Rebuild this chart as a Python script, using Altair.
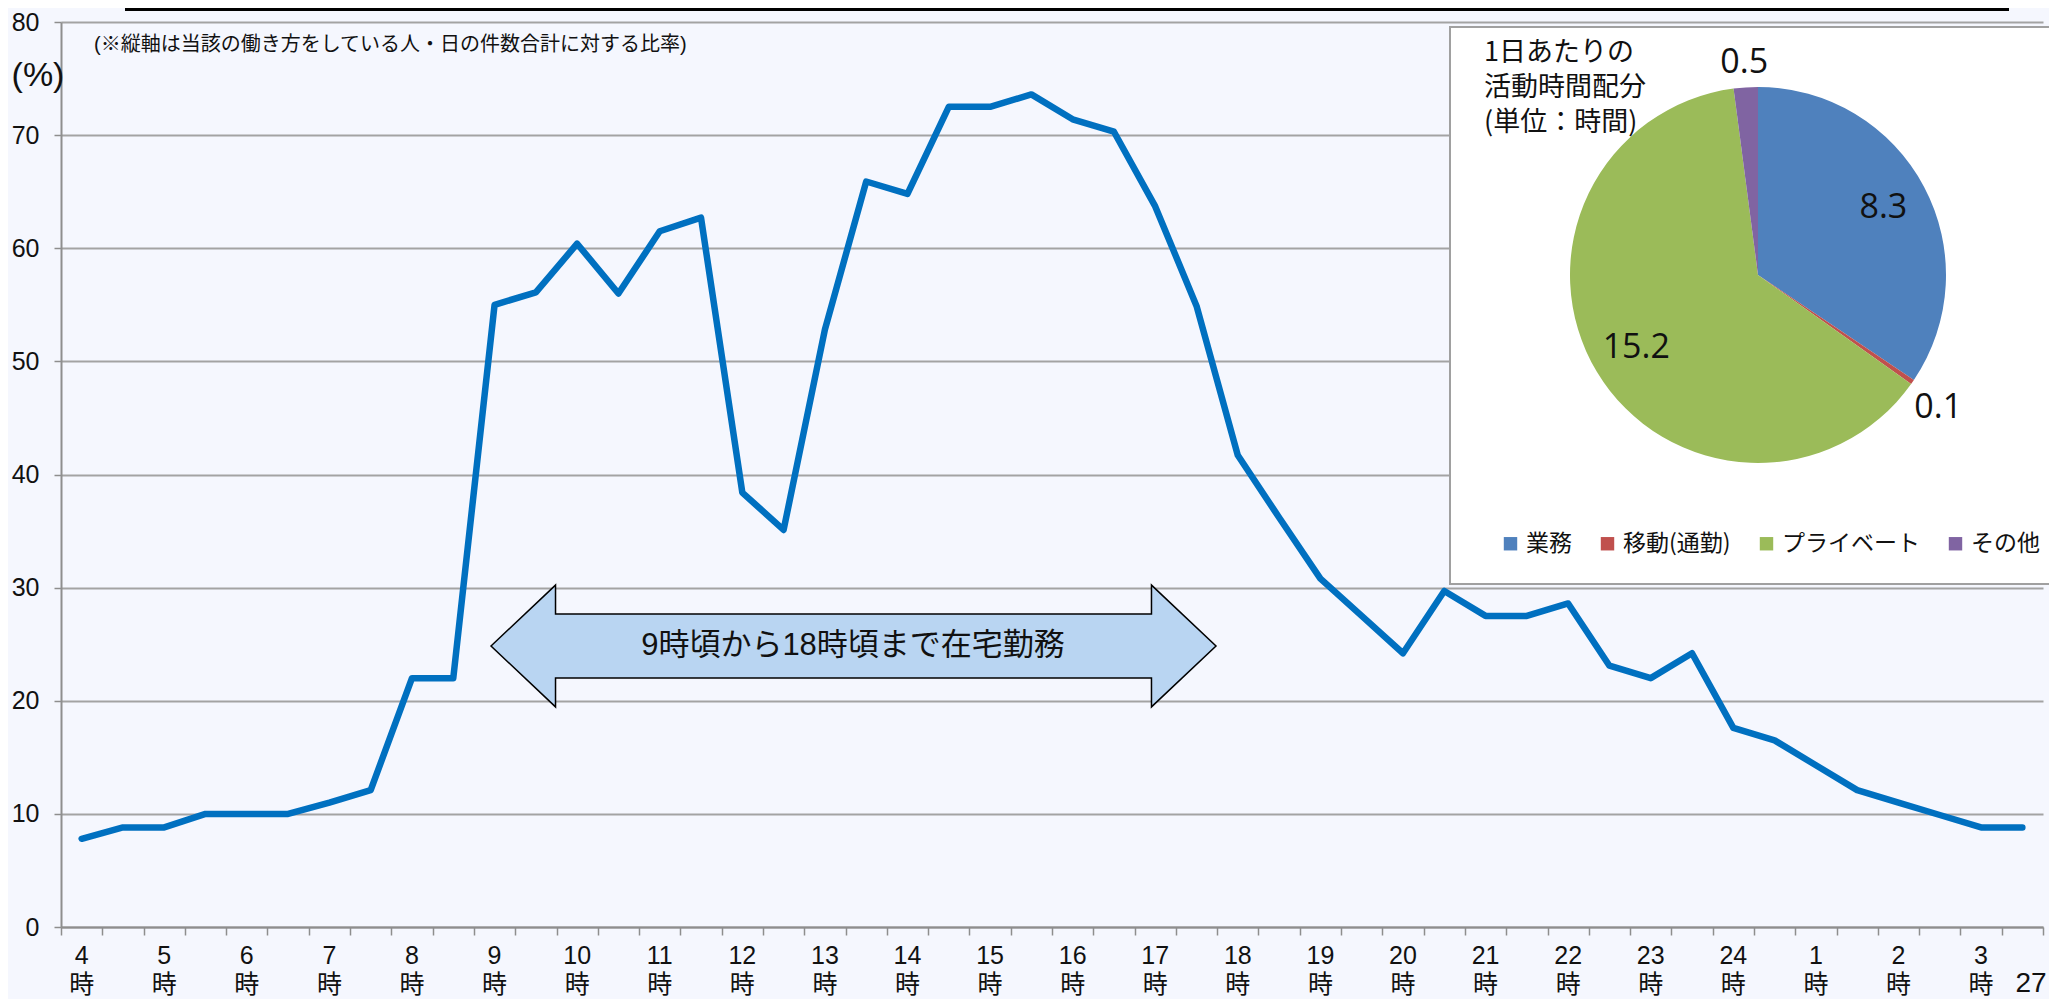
import altair as alt
import pandas as pd

# ---------------- data ----------------
hour_labels = ["4", "5", "6", "7", "8", "9", "10", "11", "12", "13", "14", "15",
               "16", "17", "18", "19", "20", "21", "22", "23", "24", "1", "2", "3"]
# share (%) for each half-hour slot, 4:00 ... 3:30
ratio = [7.8, 8.8, 8.8, 10.0, 10.0, 10.0, 11.0, 12.1, 22.0, 22.0,
         55.0, 56.1, 60.4, 56.0, 61.5, 62.7, 38.4, 35.1, 52.8, 65.9,
         64.8, 72.5, 72.5, 73.6, 71.4, 70.3, 63.7, 54.9, 41.7, 36.2,
         30.8, 27.5, 24.2, 29.7, 27.5, 27.5, 28.6, 23.1, 22.0, 24.2,
         17.6, 16.5, 14.3, 12.1, 11.0, 9.9, 8.8, 8.8]
pie_cats = ["業務", "移動(通勤)", "プライベート", "その他"]
pie_vals = [8.3, 0.1, 15.2, 0.5]
pie_colors = ["#4F81BD", "#C0504D", "#9BBB59", "#8064A2"]

# ---------------- layout ----------------
W, H = 1982, 905
BG = "#F5F7FE"
GRAY = "#8E8E8E"
LATIN = "Liberation Sans, Arial, Noto Sans CJK JP"
CJK = "Noto Sans CJK JP"

n = len(ratio)
line_df = pd.DataFrame({"i": list(range(n)), "v": ratio})
lab_df = pd.DataFrame({"i": [2 * k for k in range(len(hour_labels))],
                       "t": [h + "\n時" for h in hour_labels]})
pie_df = pd.DataFrame({"c": pie_cats, "v": pie_vals, "o": list(range(len(pie_cats)))})
one = pd.DataFrame({"k": [0]})

xs = alt.Scale(domain=[-0.5, n - 0.5], nice=False, zero=False)
ys = alt.Scale(domain=[0, 80], nice=False)
x_axis = alt.Axis(
    values=[k - 0.5 for k in range(n + 1)], labels=False, grid=False, title=None,
    ticks=True, tickSize=8, tickColor=GRAY, tickWidth=1.5,
    domainColor=GRAY, domainWidth=2)
y_axis = alt.Axis(
    values=list(range(0, 81, 10)), title=None, grid=True, gridColor="#A3A3A3",
    gridWidth=2, domainColor=GRAY, domainWidth=2, tickColor=GRAY, tickSize=7,
    tickWidth=1.5, labelFont=LATIN, labelFontSize=25, labelColor="#111111",
    labelPadding=15)

line = alt.Chart(line_df).mark_line(
    color="#0070C0", strokeWidth=6.5, strokeCap="round", strokeJoin="round"
).encode(
    x=alt.X("i:Q", scale=xs, axis=x_axis),
    y=alt.Y("v:Q", scale=ys, axis=y_axis),
)

hour_text = alt.Chart(lab_df).mark_text(
    font=LATIN, fontSize=25, color="#111111", lineBreak="\n", lineHeight=29,
    baseline="middle", align="center"
).encode(
    x=alt.X("i:Q", scale=xs, axis=x_axis),
    y=alt.value(934),
    text="t:N",
)

# double-headed annotation arrow drawn as one custom symbol
ARROW_PATH = ("M -1 0 L -0.822 -0.168 L -0.822 -0.088 L 0.822 -0.088 L 0.822 -0.168 "
              "L 1 0 L 0.822 0.168 L 0.822 0.088 L -0.822 0.088 L -0.822 0.168 Z")
arrow = alt.Chart(one).mark_point(
    shape=ARROW_PATH, size=725 * 725, filled=True, fill="#B9D5F2", stroke="#000000",
    strokeWidth=1.5, opacity=1
).encode(x=alt.value(792.5), y=alt.value(624))

arrow_text = alt.Chart(one).mark_text(
    text="9時頃から18時頃まで在宅勤務", font=LATIN, fontSize=31, color="#111111",
    align="center", baseline="middle"
).encode(x=alt.value(792), y=alt.value(624))

note = alt.Chart(one).mark_text(
    text="(※縦軸は当該の働き方をしている人・日の件数合計に対する比率)", font=LATIN,
    fontSize=20, color="#111111", align="left", baseline="middle"
).encode(x=alt.value(33), y=alt.value(23))

pct = alt.Chart(one).mark_text(
    text="(%)", font=LATIN, fontSize=34, color="#111111", align="center", baseline="middle"
).encode(x=alt.value(-23), y=alt.value(54))

page_no = alt.Chart(one).mark_text(
    text="27", font=LATIN, fontSize=28, color="#111111", align="center", baseline="middle"
).encode(x=alt.value(1970), y=alt.value(962))

top_bar = alt.Chart(one).mark_rule(color="#000000", strokeWidth=3).encode(
    x=alt.value(64), x2=alt.value(1948), y=alt.value(-12.5))

# inset panel with pie
box = alt.Chart(one).mark_rect(fill="#FFFFFF", stroke="#A0A0A0", strokeWidth=2).encode(
    x=alt.value(1389), x2=alt.value(2010), y=alt.value(5), y2=alt.value(562))

inset_title = alt.Chart(one).mark_text(
    text="1日あたりの\n活動時間配分\n(単位：時間)", lineBreak="\n", lineHeight=35,
    font=CJK, fontSize=27, color="#111111", align="left", baseline="middle"
).encode(x=alt.value(1423), y=alt.value(31))

CX, CY = 1697, 253
pie = alt.Chart(pie_df).mark_arc(radius=188).encode(
    theta=alt.Theta("v:Q", stack=True),
    color=alt.Color("c:N", scale=alt.Scale(domain=pie_cats, range=pie_colors),
                    legend=alt.Legend(
                        orient="none", legendX=1438, legendY=510, direction="horizontal",
                        title=None, symbolType="square", symbolSize=180,
                        symbolStrokeWidth=0, symbolOpacity=1, labelFont=CJK,
                        labelFontSize=23, labelColor="#111111", columnPadding=24,
                        labelOffset=4, labelLimit=300)),
    order=alt.Order("o:Q"),
    x=alt.value(CX), y=alt.value(CY),
)
pie_text = alt.Chart(pie_df).transform_window(
    cum="sum(v)", sort=[alt.SortField("o")], frame=[None, 0]
).transform_joinaggregate(
    tot="sum(v)"
).transform_calculate(
    ang="(datum.cum - datum.v / 2) / datum.tot * 2 * PI + (datum.v < 0.3 ? 0.03 : 0)",
    lr="datum.v < 0.3 ? 224 : (datum.v < 1 ? 212 : 142)",
    lbl="format(datum.v, '.1f')",
).mark_text(font="Open Sans", fontSize=34, color="#111111", align="center",
            baseline="middle").encode(
    theta=alt.Theta("ang:Q", scale=None, stack=False),
    radius=alt.Radius("lr:Q", scale=None),
    text="lbl:N",
    x=alt.value(CX), y=alt.value(CY),
)

chart = alt.layer(
    line, hour_text, arrow, arrow_text, note, pct, page_no, top_bar,
    box, inset_title, pie, pie_text
).properties(
    width=W, height=H,
    autosize=alt.AutoSizeParams(type="none"),
    padding={"left": 53, "top": 14, "right": 6, "bottom": 72},
).configure(background=BG).configure_view(stroke=None)

chart.save("out.html", embed_options={"renderer": "svg", "actions": False})
